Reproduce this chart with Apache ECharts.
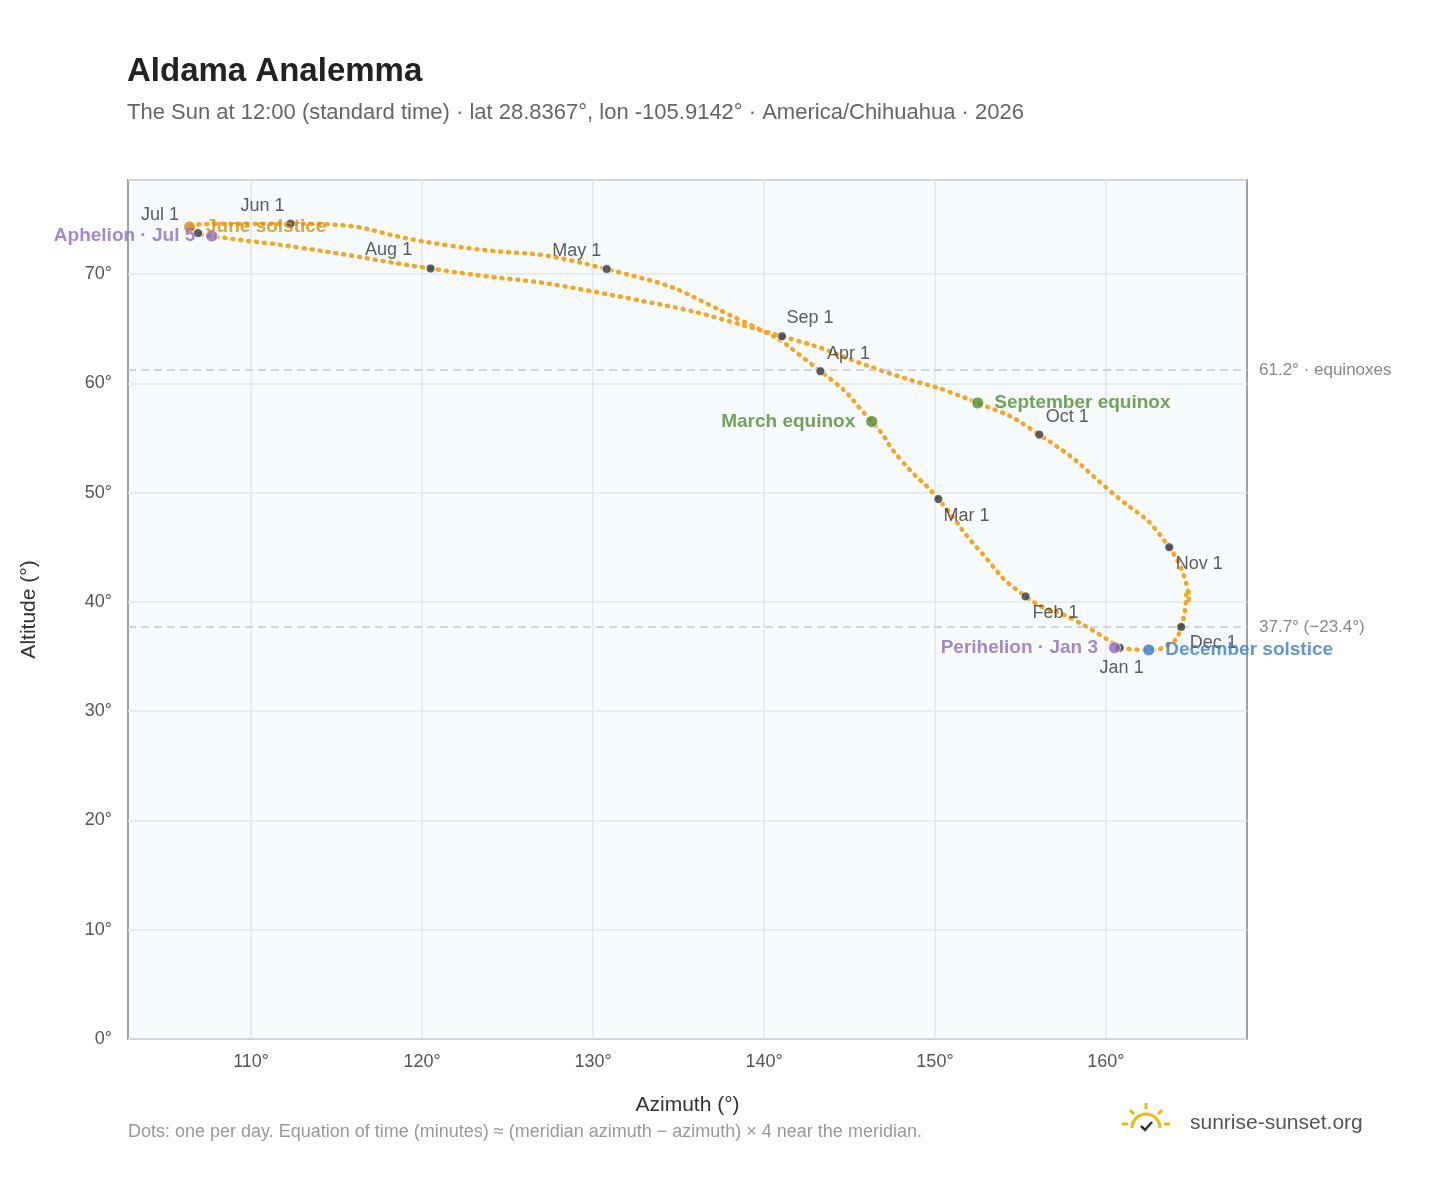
<!DOCTYPE html>
<html><head><meta charset="utf-8">
<script src="https://cdn.jsdelivr.net/npm/echarts@6/dist/echarts.min.js"></script>
<style>html,body{margin:0;background:#fff}#c{width:1448px;height:1188px}</style>
</head><body><div id="c"></div>
<script>
// Path samples (azimuth, altitude), Jan 1 -> Dec 31
const pathAz  = [160.8,158.2,155.3,152.6,150.2,148.0,146.3,143.3,138.6,130.8,121.6,112.3,109.4,106.4,106.9,107.7,112.9,120.5,131.0,141.05,146.8,152.5,156.1,160.2,163.7,164.85,164.8,164.4,163.6,162.5,160.8];
const pathAlt = [35.8,38.3,40.5,44.7,49.4,53.0,56.5,61.1,65.8,70.45,72.6,74.6,74.6,74.3,73.74,73.47,72.4,70.5,68.1,64.3,61.2,58.2,55.3,50.2,45.0,40.2,41.1,37.7,36.05,35.6,35.8];
const monthNames = ['Jan 1','Feb 1','Mar 1','Apr 1','May 1','Jun 1','Jul 1','Aug 1','Sep 1','Oct 1','Nov 1','Dec 1'];
const monthAz  = [160.8,155.3,150.2,143.3,130.8,112.3,106.9,120.5,141.05,156.1,163.7,164.4];
const monthAlt = [35.8,40.5,49.4,61.1,70.45,74.6,73.74,70.5,64.3,55.3,45.0,37.7];
const monthPos = [[2,20],[30,17],[28,17],[28,-17],[-30,-18],[-28,-18],[-38,-18],[-42,-18],[28,-18],[28,-18],[30,17],[32,16]];
const eventNames = ['June solstice','Aphelion · Jul 5','March equinox','September equinox','Perihelion · Jan 3','December solstice'];
const eventAz  = [106.4,107.7,146.3,152.5,160.5,162.5];
const eventAlt = [74.3,73.47,56.5,58.2,35.8,35.6];
const eventColor = ['#d4900f','#8e6bbf','#4e8f2f','#4e8f2f','#8e6bbf','#3a7dc9'];
const eventSide = ['right','left','left','right','left','right'];
const xTicks = [110,120,130,140,150,160];
const refLines = [61.2,37.7];
const refLabels = ['61.2° · equinoxes','37.7° (−23.4°)'];

const chart = echarts.init(document.getElementById('c'));
const F = 'Liberation Sans, Arial, sans-serif';
chart.setOption({
  animation:false,
  textStyle:{fontFamily:F},
  title:{text:'Aldama Analemma',subtext:'The Sun at 12:00 (standard time) · lat 28.8367°, lon -105.9142° · America/Chihuahua · 2026',
    left:122,top:50,itemGap:14,
    textStyle:{fontSize:33,fontWeight:'bold',color:'#222',fontFamily:F},
    subtextStyle:{fontSize:22,color:'#666',fontFamily:F}},
  grid:{left:128,top:180,width:1119,height:859,show:true,backgroundColor:'#f8fbfe',borderColor:'#97a3b0',borderWidth:2},
  xAxis:{type:'value',min:102.8,max:168.25,name:'Azimuth (°)',nameLocation:'middle',nameGap:56,
    nameTextStyle:{fontSize:21,color:'#333'},
    axisLabel:{customValues:xTicks,formatter:v=>v+'°',fontSize:18,color:'#555',margin:14},
    axisLine:{show:false},axisTick:{show:false,customValues:xTicks},splitLine:{lineStyle:{color:'#e2e7ec',width:1.5}}},
  yAxis:{type:'value',min:0,max:78.6,interval:10,name:'Altitude (°)',nameLocation:'middle',nameGap:88,
    nameTextStyle:{fontSize:21,color:'#333'},
    axisLabel:{formatter:v=>v%10===0?v+'°':'',fontSize:18,color:'#555',margin:16,showMaxLabel:false},
    axisLine:{show:false},axisTick:{show:false},splitLine:{lineStyle:{color:'#e2e7ec',width:1.5}}},
  series:[
    {type:'line',data:pathAz.map((a,i)=>[a,pathAlt[i]]),smooth:0.6,symbol:'none',
     lineStyle:{color:'#f5a623',width:4.5,type:[1,7],cap:'round'},
     markLine:{silent:true,symbol:'none',data:refLines.map((v,i)=>({yAxis:v,label:{formatter:refLabels[i]}})),
       lineStyle:{color:'#c4c8d0',type:[8,5],width:1.5},
       label:{position:'end',fontSize:17,color:'#888',distance:12}}},
    {type:'scatter',symbolSize:9,itemStyle:{color:'#333a45',borderColor:'#fff',borderWidth:1},z:5,
     data:monthAz.map((a,i)=>({value:[a,monthAlt[i]],name:monthNames[i],
       label:{show:true,formatter:monthNames[i],offset:monthPos[i],fontSize:18,color:'#333',position:'inside'}}))},
    {type:'scatter',symbolSize:12,z:6,itemStyle:{borderColor:'#fff',borderWidth:1},
     data:eventAz.map((a,i)=>({value:[a,eventAlt[i]],itemStyle:{color:eventColor[i]},
       label:{show:true,formatter:eventNames[i],position:eventSide[i],distance:10,fontSize:19,fontWeight:'bold',color:eventColor[i]}}))}
  ],
  graphic:[
    {type:'text',left:128,top:1123,style:{text:'Dots: one per day. Equation of time (minutes) ≈ (meridian azimuth − azimuth) × 4 near the meridian.',fontSize:18,fill:'#999',fontFamily:F}},
    {type:'text',left:1190,top:1113,style:{text:'sunrise-sunset.org',fontSize:21,fill:'#555',fontFamily:F}},
    {type:'arc',shape:{cx:1146,cy:1128,r:14,startAngle:Math.PI,endAngle:2*Math.PI},style:{stroke:'#f2b80f',lineWidth:3,fill:null}},
    {type:'polyline',shape:{points:[[1141,1126],[1145,1130],[1152,1122]]},style:{stroke:'#333',lineWidth:2.5,fill:null}},
    {type:'line',shape:{x1:1146,y1:1103,x2:1146,y2:1109},style:{stroke:'#f2b80f',lineWidth:3}},
    {type:'line',shape:{x1:1130,y1:1110,x2:1134,y2:1114},style:{stroke:'#f2b80f',lineWidth:3}},
    {type:'line',shape:{x1:1162,y1:1110,x2:1158,y2:1114},style:{stroke:'#f2b80f',lineWidth:3}},
    {type:'line',shape:{x1:1122,y1:1124,x2:1128,y2:1124},style:{stroke:'#f2b80f',lineWidth:3}},
    {type:'line',shape:{x1:1164,y1:1124,x2:1170,y2:1124},style:{stroke:'#f2b80f',lineWidth:3}}
  ]
});
</script></body></html>
